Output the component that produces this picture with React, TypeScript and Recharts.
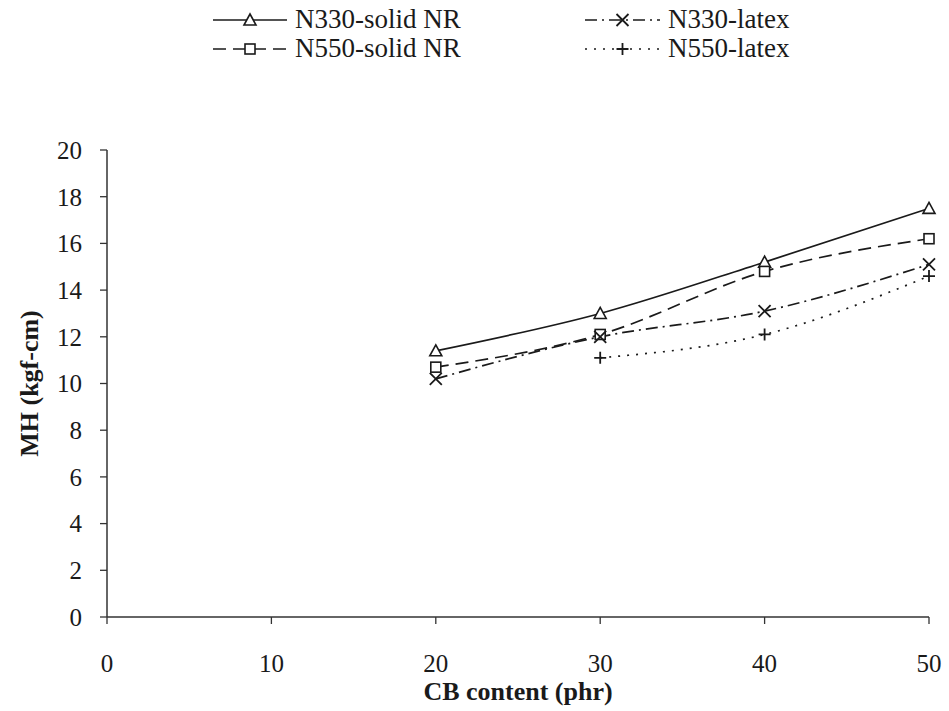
import { LineChart, Line, XAxis, YAxis, Label } from "recharts";

// carbon black loading (phr)
const cbContent = [20, 30, 40, 50];

// MH values (kgf-cm) per compound
const n330Solid = [11.4, 13.0, 15.2, 17.5];
const n550Solid = [10.7, 12.1, 14.8, 16.2];
const n330Latex = [10.2, 12.0, 13.1, 15.1];
const n550Latex = [null, 11.1, 12.1, 14.6];

const xTicks = [0, 10, 20, 30, 40, 50];
const yTicks = [0, 2, 4, 6, 8, 10, 12, 14, 16, 18, 20];

const data = cbContent.map((cb, i) => ({
  cb,
  n330Solid: n330Solid[i],
  n550Solid: n550Solid[i],
  n330Latex: n330Latex[i],
  n550Latex: n550Latex[i],
}));

const FONT = "Liberation Serif";
const INK = "#1a1a1a";

const ok = (cx: any, cy: any) => typeof cx === "number" && typeof cy === "number" && !isNaN(cy);

const TriangleDot = ({ cx, cy }: any) =>
  ok(cx, cy) ? (
    <polygon
      points={`${cx},${cy - 6} ${cx + 6},${cy + 5} ${cx - 6},${cy + 5}`}
      fill="#fff"
      stroke={INK}
      strokeWidth={1.6}
    />
  ) : null;

const SquareDot = ({ cx, cy }: any) =>
  ok(cx, cy) ? (
    <rect x={cx - 5} y={cy - 5} width={10} height={10} fill="#fff" stroke={INK} strokeWidth={1.6} />
  ) : null;

const CrossDot = ({ cx, cy }: any) =>
  ok(cx, cy) ? (
    <path d={`M${cx - 6},${cy - 6}L${cx + 6},${cy + 6}M${cx + 6},${cy - 6}L${cx - 6},${cy + 6}`} stroke={INK} strokeWidth={1.8} />
  ) : null;

const PlusDot = ({ cx, cy }: any) =>
  ok(cx, cy) ? (
    <path d={`M${cx - 6},${cy}L${cx + 6},${cy}M${cx},${cy - 6}L${cx},${cy + 6}`} stroke={INK} strokeWidth={1.8} />
  ) : null;

const series = [
  { key: "n330Solid", name: "N330-solid NR", dash: undefined, Dot: TriangleDot },
  { key: "n550Solid", name: "N550-solid NR", dash: "13 7", Dot: SquareDot },
  { key: "n330Latex", name: "N330-latex", dash: "12 5 2 5", Dot: CrossDot },
  { key: "n550Latex", name: "N550-latex", dash: "2 7", Dot: PlusDot },
];

// legend slots: [symbol start, symbol end, text x, baseline]
const legendSlots = [
  [213, 287, 295, 28],
  [213, 287, 295, 57],
  [585, 660, 668, 28],
  [585, 660, 668, 57],
];

const XTitle = ({ viewBox }: any) => (
  <text
    x={viewBox.x + viewBox.width / 2}
    y={700}
    textAnchor="middle"
    fontFamily={FONT}
    fontWeight="bold"
    fontSize={26}
    fill={INK}
  >
    CB content (phr)
  </text>
);

const YTitle = ({ viewBox }: any) => {
  const cy = viewBox.y + viewBox.height / 2;
  return (
    <text
      x={29}
      y={cy}
      transform={`rotate(-90 29 ${cy})`}
      textAnchor="middle"
      dominantBaseline="central"
      fontFamily={FONT}
      fontWeight="bold"
      fontSize={26}
      fill={INK}
    >
      MH (kgf-cm)
    </text>
  );
};

export default function App() {
  return (
    <div
      style={{
        position: "absolute",
        left: 0,
        top: 0,
        width: 949,
        height: 711,
        overflow: "hidden",
        background: "#fff",
      }}
    >
      <LineChart width={949} height={711} data={data} margin={{ top: 150, right: 20, bottom: 34, left: 47 }}>
        <XAxis
          type="number"
          dataKey="cb"
          domain={[0, 50]}
          ticks={xTicks}
          height={60}
          tickSize={7}
          tickMargin={30}
          axisLine={{ stroke: "#333", strokeWidth: 1.5 }}
          tickLine={{ stroke: "#333", strokeWidth: 1.3 }}
          tick={{ fill: INK, fontSize: 25, fontFamily: FONT }}
        >
          <Label content={XTitle} />
        </XAxis>
        <YAxis
          type="number"
          domain={[0, 20]}
          ticks={yTicks}
          width={60}
          tickSize={7}
          tickMargin={18}
          interval={0}
          axisLine={{ stroke: "#333", strokeWidth: 1.5 }}
          tickLine={{ stroke: "#333", strokeWidth: 1.3 }}
          tick={{ fill: INK, fontSize: 25, fontFamily: FONT }}
        >
          <Label content={YTitle} />
        </YAxis>
        {series.map((s) => (
          <Line
            key={s.key}
            type="monotone"
            dataKey={s.key}
            name={s.name}
            stroke={INK}
            strokeWidth={1.7}
            strokeDasharray={s.dash}
            dot={<s.Dot />}
            activeDot={false}
            isAnimationActive={false}
          />
        ))}
      </LineChart>
      <svg width={949} height={80} style={{ position: "absolute", left: 0, top: 0 }}>
        {series.map((s, i) => {
          const [x1, x2, tx, by] = legendSlots[i];
          const ly = by - 8;
          const mid = (x1 + x2) / 2;
          return (
            <g key={s.key}>
              <line x1={x1} y1={ly} x2={x2} y2={ly} stroke={INK} strokeWidth={1.7} strokeDasharray={s.dash} />
              <s.Dot cx={mid} cy={ly} />
              <text x={tx} y={by} fontFamily={FONT} fontSize={27} fill={INK}>
                {s.name}
              </text>
            </g>
          );
        })}
      </svg>
    </div>
  );
}
